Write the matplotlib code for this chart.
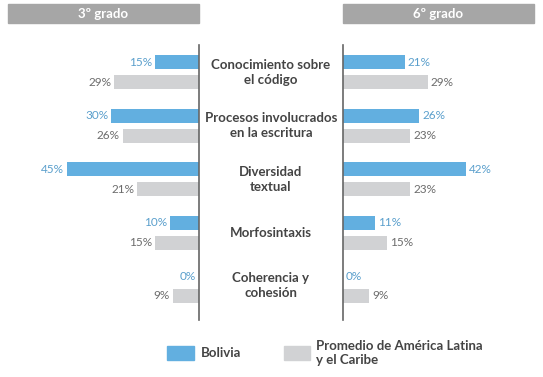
import matplotlib
matplotlib.use('Agg')
import matplotlib.pyplot as plt
import matplotlib.transforms as mtransforms
from matplotlib.patches import Rectangle

# Data
categories = ['Conocimiento sobre\nel código', 'Procesos involucrados\nen la escritura',
              'Diversidad\ntextual', 'Morfosintaxis', 'Coherencia y\ncohesión']
bolivia_3 = [15, 30, 45, 10, 0]
promedio_3 = [29, 26, 21, 15, 9]
bolivia_6 = [21, 26, 42, 11, 0]
promedio_6 = [29, 23, 23, 15, 9]
panel_titles = ['3º grado', '6º grado']
legend_labels = ['Bolivia', 'Promedio de América Latina\ny el Caribe']

BLUE = '#62afe0'
GRAY = '#d1d2d4'
HEAD = '#a6a6a6'
TXT = '#444444'
BLUE_TXT = '#5a9fcc'
GRAY_TXT = '#6c6c6c'

plt.rcParams['font.family'] = ['Lato', 'DejaVu Sans']

W, H = 543, 377
fig = plt.figure(figsize=(W / 100, H / 100), dpi=100)


def px(x0, y0, x1, y1):
    return [x0 / W, 1 - y1 / H, (x1 - x0) / W, (y1 - y0) / H]


ax_l = fig.add_axes(px(8, 45, 199, 320))
ax_r = fig.add_axes(px(343, 45, 534, 320))

off = 0.187
bh = 0.262
ypos = list(range(len(categories)))
yb = [y - off for y in ypos]
yp = [y + off for y in ypos]

for ax, bol, prom, side in [(ax_l, bolivia_3, promedio_3, 'left'),
                            (ax_r, bolivia_6, promedio_6, 'right')]:
    ax.barh(yb, bol, height=bh, color=BLUE)
    ax.barh(yp, prom, height=bh, color=GRAY)
    ha = 'right' if side == 'left' else 'left'
    for y, v in zip(yb, bol):
        ax.text(v + 1, y, f'{v}%', ha=ha, va='center', fontsize=8.5, color=BLUE_TXT)
    for y, v in zip(yp, prom):
        ax.text(v + 1, y, f'{v}%', ha=ha, va='center', fontsize=8.5, color=GRAY_TXT)
    ax.set_ylim(4.637, -0.513)
    ax.set_xticks([])
    ax.set_yticks([])
    for s in ax.spines.values():
        s.set_visible(False)
    ax.patch.set_visible(False)

ax_l.set_xlim(65.2, 0)
ax_r.set_xlim(0, 65.2)
ax_l.spines['right'].set_visible(True)
ax_r.spines['left'].set_visible(True)
for s in (ax_l.spines['right'], ax_r.spines['left']):
    s.set_color('#666666')
    s.set_linewidth(1.2)

# category labels in the middle
trans = mtransforms.blended_transform_factory(fig.transFigure, ax_r.transData)
for y, c in zip(ypos, categories):
    fig.text(271 / W, y, c, transform=trans, ha='center', va='center',
             fontsize=9.5, fontweight='bold', color=TXT, linespacing=1.3)

# panel headers
for (x0, x1), t in zip([(8, 199), (343, 534)], panel_titles):
    fig.patches.append(Rectangle((x0 / W, 1 - 23 / H), (x1 - x0) / W, 19 / H,
                                 transform=fig.transFigure, color=HEAD))
    fig.text((x0 + x1) / 2 / W, 1 - 13.5 / H, t, ha='center', va='center',
             fontsize=9.5, fontweight='bold', color='white')

# legend
for (x0, x1), col, lab, tx in zip([(167, 194), (284, 310)], [BLUE, GRAY],
                                  legend_labels, [201, 316]):
    fig.patches.append(Rectangle((x0 / W, 1 - 360 / H), (x1 - x0) / W, 14 / H,
                                 transform=fig.transFigure, color=col))
    fig.text(tx / W, 1 - 353 / H, lab, ha='left', va='center', fontsize=9.5,
             fontweight='bold', color=TXT, linespacing=1.1)

fig.savefig('out.png', dpi=100)
